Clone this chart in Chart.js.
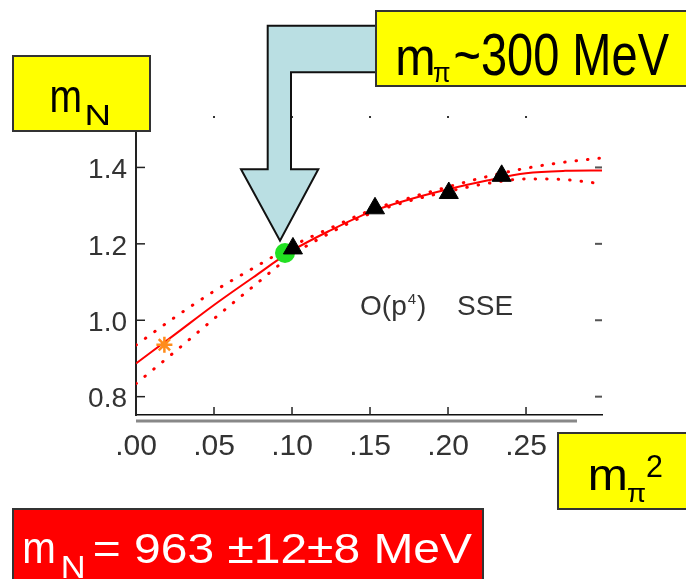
<!DOCTYPE html>
<html>
<head>
<meta charset="utf-8">
<script src="https://cdn.jsdelivr.net/npm/chart.js@4"></script>
<style>
  html, body { margin: 0; padding: 0; background: #fff; }
  canvas { display: block; }
</style>
</head>
<body>
<canvas id="chart" width="686" height="579"></canvas>
<script>
// chiral fit band (solid = central, dotted = error band)
const fitX = [0, 0.025, 0.05, 0.075, 0.10, 0.125, 0.15, 0.175, 0.20, 0.225, 0.25, 0.275, 0.299];
const fitMid = [0.887, 0.963, 1.040, 1.112, 1.182, 1.236, 1.283, 1.316, 1.343, 1.366, 1.385, 1.391, 1.392];
const fitUpper = [0.935, 1.008, 1.076, 1.136, 1.194, 1.242, 1.287, 1.320, 1.349, 1.376, 1.398, 1.414, 1.425];
const fitLower = [0.834, 0.918, 1.004, 1.088, 1.170, 1.230, 1.279, 1.312, 1.337, 1.358, 1.370, 1.368, 1.357];

// lattice points (triangles)
const latticeX = [0.1006, 0.1532, 0.2005, 0.2344];
const latticeY = [1.188, 1.293, 1.333, 1.378];

// highlighted point at m_pi ~ 300 MeV
const pickX = [0.0955];
const pickY = [1.176];

// physical point
const physX = [0.0182];
const physY = [0.936];

const xTicks = [0, 0.05, 0.10, 0.15, 0.20, 0.25];
const yTicks = [0.8, 1.0, 1.2, 1.4];

const toPts = (xs, ys) => xs.map((x, i) => ({ x: x, y: ys[i] }));

const FONT = '"Liberation Sans", Arial, Helvetica, sans-serif';

// draw a text run stretched so its ink fits a given width
function fitRun(ctx, t, x, base, size, w, color) {
    ctx.font = size + "px " + FONT;
    const m = ctx.measureText(t);
    const ink = m.actualBoundingBoxLeft + m.actualBoundingBoxRight;
    const sx = w / ink;
    ctx.save();
    ctx.translate(x, base);
    ctx.scale(sx, 1);
    ctx.fillStyle = color;
    ctx.textBaseline = "alphabetic";
    ctx.textAlign = "left";
    ctx.fillText(t, m.actualBoundingBoxLeft, 0);
    ctx.restore();
}

function box(ctx, x, y, w, h, fill) {
    ctx.fillStyle = fill;
    ctx.fillRect(x, y, w, h);
    ctx.lineWidth = 2;
    ctx.strokeStyle = "#333";
    ctx.strokeRect(x, y, w, h);
}

const decor = {
    id: "decor",
    afterDraw(chart) {
        const ctx = chart.ctx;
        const xs = chart.scales.x;
        const ys = chart.scales.y;
        const area = chart.chartArea;

        ctx.save();
        // inward tick marks, top dots, right dashes
        ctx.strokeStyle = "#222";
        ctx.lineWidth = 1.5;
        xTicks.forEach(v => {
            const px = xs.getPixelForValue(v);
            if (v > 0) {
                ctx.beginPath();
                ctx.moveTo(px, area.bottom);
                ctx.lineTo(px, area.bottom - 8);
                ctx.stroke();
                ctx.fillStyle = "#333";
                ctx.fillRect(px - 1, area.top - 1, 2, 2);
            }
        });
        yTicks.forEach(v => {
            const py = ys.getPixelForValue(v);
            ctx.beginPath();
            ctx.moveTo(area.left, py);
            ctx.lineTo(area.left + 9, py);
            ctx.stroke();
            ctx.fillStyle = "#555";
            ctx.fillRect(area.right - 7, py - 1, 7, 2);
        });

        // grey double line under the x axis
        ctx.strokeStyle = "#888";
        ctx.lineWidth = 3;
        ctx.beginPath();
        ctx.moveTo(area.left, area.bottom + 6);
        ctx.lineTo(577, area.bottom + 6);
        ctx.stroke();

        // O(p^4) SSE label
        const ax = xs.getPixelForValue(0.1436);
        const ay = ys.getPixelForValue(1.013);
        ctx.fillStyle = "#333";
        ctx.textBaseline = "alphabetic";
        ctx.font = "28px " + FONT;
        ctx.fillText("O(p", ax, ay);
        let w = ctx.measureText("O(p").width;
        ctx.font = "15px " + FONT;
        ctx.fillText("4", ax + w + 1, ay - 11);
        w += ctx.measureText("4").width + 2;
        ctx.font = "28px " + FONT;
        ctx.fillText(")", ax + w, ay);
        ctx.fillText("SSE", ax + 97, ay);

        // arrow
        ctx.beginPath();
        ctx.moveTo(267.7, 25.7);
        ctx.lineTo(380, 25.7);
        ctx.lineTo(380, 72.3);
        ctx.lineTo(291, 72.3);
        ctx.lineTo(291, 169.3);
        ctx.lineTo(318.3, 169.3);
        ctx.lineTo(280, 240.7);
        ctx.lineTo(241, 169.3);
        ctx.lineTo(267.7, 169.3);
        ctx.closePath();
        ctx.fillStyle = "#badfe3";
        ctx.fill();
        ctx.lineWidth = 2;
        ctx.strokeStyle = "#111";
        ctx.stroke();

        // m_N box
        box(ctx, 13, 56, 137, 75, "#ffff00");
        fitRun(ctx, "m", 52, 112, 46, 28, "#000");
        fitRun(ctx, "N", 87, 125, 30, 22, "#000");

        // m_pi ~300 MeV box
        box(ctx, 376, 11, 320, 75, "#ffff00");
        fitRun(ctx, "m", 398, 75, 54, 35, "#000");
        fitRun(ctx, "\u03c0", 434, 82, 27, 16, "#000");
        fitRun(ctx, "~300 MeV", 455, 75, 60, 214, "#000");

        // m_pi^2 box
        box(ctx, 558, 433, 140, 76, "#ffff00");
        fitRun(ctx, "m", 590, 490, 44, 35, "#000");
        fitRun(ctx, "\u03c0", 628, 501.7, 26, 17, "#000");
        fitRun(ctx, "2", 647, 477.3, 31, 14.7, "#000");

        // result box
        box(ctx, 13, 509, 470, 80, "#ff0000");
        fitRun(ctx, "m", 24, 563.3, 44, 29.3, "#fff");
        fitRun(ctx, "N", 63, 578, 31, 20, "#fff");
        fitRun(ctx, "= 963 \u00b112\u00b18 MeV", 95, 563.3, 42, 377, "#fff");
        ctx.restore();
    }
};

const chart = new Chart(document.querySelector("#chart"), {
    type: "scatter",
    data: {
        datasets: [
            {
                data: toPts(latticeX, latticeY),
                pointStyle: "triangle",
                pointRadius: 11,
                backgroundColor: "#000",
                borderColor: "#000",
                borderWidth: 1
            },
            {
                data: toPts(pickX, pickY),
                pointRadius: 10,
                backgroundColor: "#22e022",
                borderColor: "#22e022",
                borderWidth: 0
            },
            {
                data: toPts(physX, physY),
                pointStyle: "star",
                pointRadius: 8,
                borderColor: "#ff8c1a",
                borderWidth: 2.5
            },
            {
                type: "line",
                data: toPts(fitX, fitUpper),
                borderColor: "#ff0000",
                borderWidth: 3,
                borderDash: [0.5, 11],
                borderCapStyle: "round",
                pointRadius: 0,
                cubicInterpolationMode: "monotone",
                fill: false
            },
            {
                type: "line",
                data: toPts(fitX, fitLower),
                borderColor: "#ff0000",
                borderWidth: 3,
                borderDash: [0.5, 11],
                borderCapStyle: "round",
                pointRadius: 0,
                cubicInterpolationMode: "monotone",
                fill: false
            },
            {
                type: "line",
                data: toPts(fitX, fitMid),
                borderColor: "#ff0000",
                borderWidth: 2,
                pointRadius: 0,
                cubicInterpolationMode: "monotone",
                fill: false
            }
        ]
    },
    options: {
        responsive: false,
        animation: false,
        layout: { padding: { left: 0, right: 84, top: 117, bottom: 114 } },
        plugins: {
            legend: { display: false },
            tooltip: { enabled: false }
        },
        scales: {
            x: {
                type: "linear",
                min: 0,
                max: 0.2987,
                afterBuildTicks: s => { s.ticks = xTicks.map(v => ({ value: v })); },
                afterFit: s => { s.height = 50; },
                grid: { drawOnChartArea: false, drawTicks: false },
                border: { color: "#111", width: 1.5 },
                ticks: {
                    padding: 14,
                    color: "#333",
                    font: { family: FONT, size: 30 },
                    callback: v => v.toFixed(2).slice(1)
                }
            },
            y: {
                min: 0.752,
                max: 1.532,
                afterBuildTicks: s => { s.ticks = yTicks.map(v => ({ value: v })); },
                afterFit: s => { s.width = 136; },
                grid: { drawOnChartArea: false, drawTicks: false },
                border: { color: "#222", width: 2 },
                ticks: {
                    padding: 9,
                    labelOffset: 3,
                    color: "#333",
                    font: { family: FONT, size: 28 },
                    callback: v => v.toFixed(1)
                }
            }
        }
    },
    plugins: [decor]
});
</script>
</body>
</html>
